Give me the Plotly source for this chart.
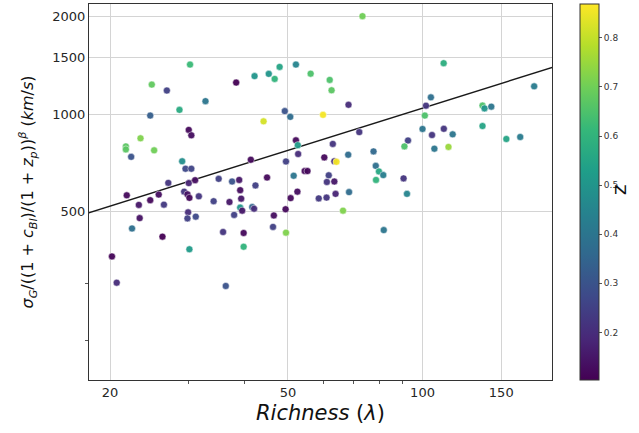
import plotly.graph_objects as go

# Richness (lambda), velocity dispersion (km/s), redshift z
richness = [30.2, 24.8, 26.8, 38.3, 42.1, 45.3, 46.7, 47.9, 52.1, 56.2,
            62.0, 62.6, 73.4, 32.7, 28.6, 24.6, 49.2, 50.6, 59.9, 44.1,
            68.3, 30.0, 30.4, 23.4, 21.7, 21.7, 25.1, 22.3, 29.0, 41.3,
            29.5, 30.4, 52.1, 52.6, 52.7, 49.5, 72.2, 63.0, 60.3, 63.5,
            64.2, 68.2, 77.7, 78.6, 79.9, 81.7, 78.7, 90.7, 51.5, 54.5,
            55.3, 61.7, 44.9, 61.1, 63.5, 52.5, 50.7, 58.6, 61.0, 63.9,
            68.5, 92.3, 66.4, 81.9, 111.5, 177.7, 104.4, 101.8, 101.2, 136.2,
            137.6, 142.5, 100.0, 111.6, 105.0, 116.8, 92.8, 91.1, 106.3, 114.3,
            136.2, 154.0, 165.4, 35.0, 37.5, 38.9, 42.3, 27.0, 30.0, 31.0,
            39.1, 21.8, 25.7, 24.6, 29.3, 29.8, 30.1, 31.6, 23.2, 26.4,
            34.1, 37.0, 39.3, 39.1, 41.6, 42.0, 39.5, 29.9, 29.8, 31.1,
            37.9, 23.3, 22.4, 26.2, 35.8, 39.8, 30.1, 39.8, 20.2, 20.7,
            36.3, 49.4, 46.5, 46.3, 49.5]
sigma = [1424, 1235, 1184, 1253, 1312, 1333, 1286, 1401, 1424, 1335,
         1277, 1186, 2009, 1098, 1032, 991, 1023, 982, 996, 951,
         1070, 895, 861, 843, 796, 779, 774, 739, 716, 724,
         679, 679, 831, 803, 754, 715, 881, 810, 736, 716,
         713, 750, 768, 693, 666, 649, 627, 634, 646, 668,
         668, 648, 638, 618, 620, 577, 551, 550, 553, 568,
         575, 568, 504, 439, 1438, 1220, 1128, 1063, 991, 1064,
         1043, 1056, 901, 902, 863, 867, 830, 796, 783, 793,
         920, 839, 851, 632, 620, 627, 603, 614, 613, 626,
         583, 562, 565, 543, 577, 566, 552, 558, 525, 526,
         539, 536, 549, 515, 517, 511, 504, 498, 477, 483,
         489, 478, 444, 419, 433, 430, 383, 390, 364, 302,
         295, 509, 487, 449, 431]
redshift = [0.62, 0.68, 0.25, 0.10, 0.50, 0.50, 0.60, 0.55, 0.45, 0.65,
            0.65, 0.67, 0.70, 0.40, 0.57, 0.33, 0.30, 0.37, 0.86, 0.82,
            0.20, 0.12, 0.13, 0.72, 0.67, 0.67, 0.70, 0.30, 0.48, 0.12,
            0.27, 0.26, 0.12, 0.52, 0.20, 0.25, 0.22, 0.22, 0.12, 0.20,
            0.86, 0.37, 0.36, 0.38, 0.56, 0.43, 0.60, 0.22, 0.40, 0.12,
            0.12, 0.25, 0.12, 0.22, 0.15, 0.13, 0.12, 0.23, 0.22, 0.18,
            0.37, 0.45, 0.72, 0.40, 0.58, 0.42, 0.38, 0.22, 0.65, 0.65,
            0.50, 0.40, 0.40, 0.22, 0.22, 0.40, 0.25, 0.65, 0.40, 0.75,
            0.55, 0.55, 0.42, 0.25, 0.30, 0.15, 0.25, 0.22, 0.18, 0.13,
            0.13, 0.12, 0.13, 0.12, 0.22, 0.14, 0.12, 0.22, 0.15, 0.23,
            0.25, 0.15, 0.15, 0.50, 0.35, 0.20, 0.15, 0.20, 0.25, 0.27,
            0.25, 0.14, 0.38, 0.10, 0.22, 0.12, 0.52, 0.60, 0.11, 0.20,
            0.30, 0.12, 0.13, 0.25, 0.72]

# power-law fit: sigma = norm * (lambda / pivot) ** slope
fit_norm = 1045.0
fit_pivot = 100.0
fit_slope = 0.433
fit_x = [17.9, 196.0]
fit_y = [fit_norm * (v / fit_pivot) ** fit_slope for v in fit_x]

x_ticks = [20, 50, 100, 150]
x_minor = [30, 40, 60, 70, 80, 90]
y_ticks = [500, 1000, 1500, 2000]
y_minor = [200, 300]
cbar_ticks = [0.2, 0.3, 0.4, 0.5, 0.6, 0.7, 0.8]
z_min, z_max = 0.103, 0.869

FONT = "DejaVu Sans"
TXT = "#262626"

fig = go.Figure()
fig.add_trace(go.Scatter(
    x=fit_x, y=fit_y, mode="lines",
    line=dict(color="#1a1a1a", width=1.5),
    showlegend=False, hoverinfo="skip"))
fig.add_trace(go.Scatter(
    x=richness, y=sigma, mode="markers",
    marker=dict(size=7, color=redshift, colorscale="Viridis",
                cmin=z_min, cmax=z_max, opacity=0.95,
                line=dict(color="white", width=0.5),
                colorbar=dict(
                    x=1.061, xanchor="left", y=0.5, yanchor="middle",
                    len=1.0, lenmode="fraction", thickness=19,
                    xpad=0, ypad=0,
                    outlinewidth=1, outlinecolor="#333333",
                    tickvals=cbar_ticks, ticks="outside", ticklen=3,
                    tickcolor="#555555",
                    tickfont=dict(family=FONT, size=9, color="#333333"))),
    showlegend=False))

fig.update_xaxes(
    type="log", range=[1.254, 2.2896], automargin=False,
    tickvals=x_ticks, ticktext=[str(v) for v in x_ticks],
    ticks="", showgrid=True, gridcolor="#d4d4d4", gridwidth=1.3,
    minor=dict(tickvals=x_minor, ticks="outside", ticklen=3,
               tickcolor="#555555", showgrid=False),
    showline=True, linecolor="#333333", linewidth=1, mirror=True,
    zeroline=False,
    tickfont=dict(family=FONT, size=13, color=TXT),
    title=dict(text="<i>Richness</i> (<i>λ</i>)",
               font=dict(family=FONT, size=21, color="#111111"),
               standoff=6))
fig.update_yaxes(
    type="log", range=[2.1795, 3.3406], automargin=False,
    tickvals=y_ticks, ticktext=[str(v) for v in y_ticks],
    ticks="", showgrid=True, gridcolor="#d4d4d4", gridwidth=1.3,
    minor=dict(tickvals=y_minor, ticks="outside", ticklen=3,
               tickcolor="#555555", showgrid=False),
    showline=True, linecolor="#333333", linewidth=1, mirror=True,
    zeroline=False,
    tickfont=dict(family=FONT, size=13, color=TXT),
    title=dict(text="<i>σ<sub>G</sub></i>/((1 + <i>c<sub>Bl</sub></i>)/(1 + <i>z<sub>p</sub></i>))<sup><i>β</i></sup> (<i>km</i>/<i>s</i>)",
               font=dict(family=FONT, size=16, color="#111111"),
               standoff=14))

fig.add_annotation(
    text="z", xref="paper", yref="paper", x=1.1735, y=0.506,
    showarrow=False, textangle=-90,
    font=dict(family=FONT, size=20, color="#111111"))

fig.update_layout(
    width=639, height=433,
    margin=dict(l=89, r=87, t=4, b=53, autoexpand=False),
    paper_bgcolor="white", plot_bgcolor="white",
    font=dict(family=FONT))

fig.write_html("out.html", config={"displayModeBar": False},
               post_script="document.body.style.margin='0';document.body.style.padding='0';")
